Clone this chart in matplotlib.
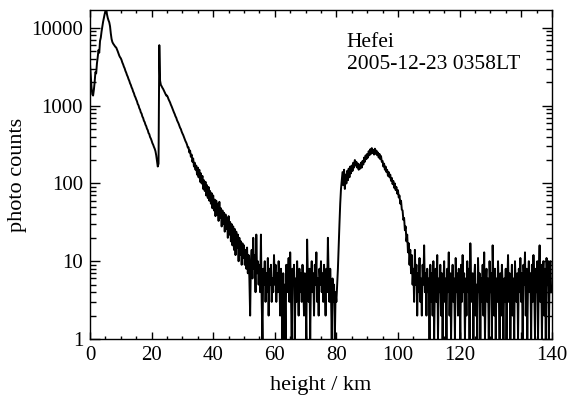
import numpy as np
import matplotlib
matplotlib.use("Agg")
import matplotlib.pyplot as plt
from matplotlib.ticker import MultipleLocator, LogLocator, NullFormatter

plt.rcParams['font.family'] = ['Liberation Serif', 'DejaVu Serif']

# range bin of the lidar profile (km)
bin_km = 0.25

# photon counts, one row per 5 km (20 bins each)
counts = [
    # 0 - 5 km
    3400, 2400, 1700, 1400, 1350, 1600, 2000, 2700, 2600, 3500, 4200, 5200, 4800, 6800, 7500, 9000, 10500, 12000, 13500, 15000,
    # 5 - 10
    16500, 18000, 15000, 13500, 12500, 11800, 10500, 8500, 7200, 6600, 6300, 6100, 5900, 5700, 5600, 5300, 5000, 4700, 4400, 4200,
    # 10 - 15
    4070, 3850, 3580, 3400, 3170, 3020, 2800, 2660, 2480, 2360, 2200, 2090, 1940, 1850, 1720, 1640, 1520, 1450, 1340, 1280,
    # 15 - 20
    1200, 1140, 1050, 1010, 930, 890, 820, 790, 725, 695, 640, 615, 570, 545, 505, 485, 445, 430, 395, 378,
    # 20 - 25
    355, 330, 315, 295, 280, 260, 230, 195, 165, 180, 6000, 2100, 1850, 1780, 1700, 1640, 1560, 1490, 1420, 1350,
    # 25 - 30
    1350, 1290, 1210, 1150, 1100, 1030, 980, 920, 870, 820, 780, 730, 700, 650, 620, 590, 555, 520, 500, 465,
    # 30 - 35
    440, 420, 395, 375, 350, 335, 315, 290, 290, 250, 265, 220, 235, 190, 210, 165, 185, 150, 170, 130,
    # 35 - 40
    160, 120, 150, 105, 135, 100, 125, 85, 110, 80, 105, 70, 95, 65, 90, 60, 80, 55, 75, 48,
    # 40 - 45
    70, 45, 62, 38, 60, 40, 55, 33, 58, 36, 48, 28, 45, 30, 42, 24, 40, 26, 36, 20,
    # 45 - 50
    38, 22, 32, 18, 30, 16, 28, 14, 26, 12, 24, 15, 22, 10, 20, 12, 18, 9, 17, 11,
    # 50 - 55
    16, 9, 14, 8, 15, 7, 12, 6, 2, 10, 14, 6, 20, 8, 12, 4, 22, 7, 10, 5,
    # 55 - 60
    9, 4, 22, 3, 1, 8, 5, 10, 3, 7, 4, 11, 2, 8, 5, 9, 3, 6, 4, 12,
    # 60 - 65
    5, 9, 3, 7, 4, 10, 6, 2, 8, 5, 1, 7, 1, 5, 1, 9, 4, 6, 11, 3,
    # 65 - 70
    13, 4, 1, 8, 5, 9, 1, 6, 3, 10, 5, 2, 8, 4, 7, 3, 9, 5, 2, 7,
    # 70 - 75
    4, 1, 19, 6, 3, 8, 1, 6, 10, 4, 7, 2, 9, 5, 13, 3, 6, 2, 8, 5,
    # 75 - 80
    10, 4, 7, 3, 9, 5, 2, 8, 4, 20, 6, 3, 8, 4, 1, 6, 3, 5, 1, 4,
    # 80 - 85
    3, 5, 8, 16, 30, 55, 85, 110, 140, 95, 150, 85, 130, 100, 145, 110, 155, 120, 165, 135,
    # 85 - 90
    170, 145, 185, 160, 200, 170, 190, 160, 180, 150, 175, 155, 185, 160, 195, 175, 215, 190, 230, 205,
    # 90 - 95
    240, 215, 260, 230, 275, 240, 285, 245, 270, 235, 280, 240, 265, 230, 250, 215, 240, 205, 225, 190,
    # 95 - 100
    195, 165, 180, 150, 165, 140, 150, 125, 140, 120, 130, 108, 118, 98, 108, 88, 100, 82, 90, 74,
    # 100 - 105
    82, 66, 70, 55, 60, 46, 45, 34, 36, 25, 28, 18, 22, 13, 17, 9, 14, 7, 12, 5,
    # 105 - 110
    8, 3, 14, 5, 9, 2, 7, 4, 11, 3, 6, 2, 9, 5, 16, 4, 7, 2, 8, 4,
    # 110 - 115
    6, 1, 9, 3, 7, 2, 10, 1, 5, 8, 3, 12, 1, 6, 4, 9, 2, 7, 1, 5,
    # 115 - 120
    10, 3, 6, 1, 8, 4, 13, 2, 7, 1, 5, 9, 3, 6, 1, 11, 4, 7, 2, 8,
    # 120 - 125
    5, 1, 9, 3, 12, 4, 7, 1, 6, 2, 10, 4, 8, 1, 17, 5, 3, 7, 1, 6,
    # 125 - 130
    9, 2, 5, 1, 11, 4, 7, 1, 6, 3, 9, 2, 13, 1, 5, 8, 3, 6, 1, 10,
    # 130 - 135
    4, 7, 1, 16, 5, 2, 8, 1, 6, 3, 10, 4, 1, 7, 2, 9, 5, 1, 6, 3,
    # 135 - 140
    8, 1, 5, 12, 3, 7, 1, 4, 9, 2, 6, 1, 10, 5, 3, 7, 1, 8, 4, 11,
    # 140 - 145
    3, 7, 1, 9, 5, 13, 2, 8, 1, 6, 10, 4, 7, 1, 9, 3, 12, 5, 1, 8,
    # 145 - 150
    4, 10, 1, 7, 16, 3, 9, 1, 6, 10, 2, 8, 1, 11, 5, 10, 1, 7, 10, 4,
]

heights = bin_km * np.arange(len(counts))

xtick_pos = [0, 20, 40, 60, 80, 100, 120, 140, 150]
xtick_lab = ['0', '20', '40', '60', '80', '100', '120', '', '140']
ytick_pos = [1, 10, 100, 1000, 10000]
ytick_lab = ['1', '10', '100', '1000', '10000']

fig = plt.figure(figsize=(5.69, 3.95), dpi=100)
ax = fig.add_axes([0.1582, 0.1418, 0.8118, 0.8329])

ax.plot(heights, counts, color='black', lw=1.4)

ax.set_yscale('log')
ax.set_xlim(0, 150)
ax.set_ylim(1, 17000)

ax.set_xticks(xtick_pos)
ax.set_xticklabels(xtick_lab)
ax.xaxis.set_minor_locator(MultipleLocator(5))
ax.set_yticks(ytick_pos)
ax.set_yticklabels(ytick_lab)
ax.yaxis.set_minor_locator(LogLocator(base=10, subs=np.arange(2, 10)))
ax.yaxis.set_minor_formatter(NullFormatter())

ax.tick_params(which='both', direction='in', top=True, right=True,
               width=1.0, colors='black', labelsize=15)
ax.tick_params(axis='x', which='major', length=5, pad=5)
ax.tick_params(axis='x', which='minor', length=2.5)
ax.tick_params(axis='y', which='major', length=7, pad=5)
ax.tick_params(axis='y', which='minor', length=4)
for s in ax.spines.values():
    s.set_linewidth(1.0)

ax.set_xlabel('height / km', fontsize=16, labelpad=8)
ax.set_ylabel('photo counts', fontsize=16, labelpad=3)

ax.text(0.556, 0.93, 'Hefei\n2005-12-23 0358LT', transform=ax.transAxes,
        ha='left', va='top', fontsize=15.5, linespacing=1.2)

fig.savefig('out.png', dpi=100)
